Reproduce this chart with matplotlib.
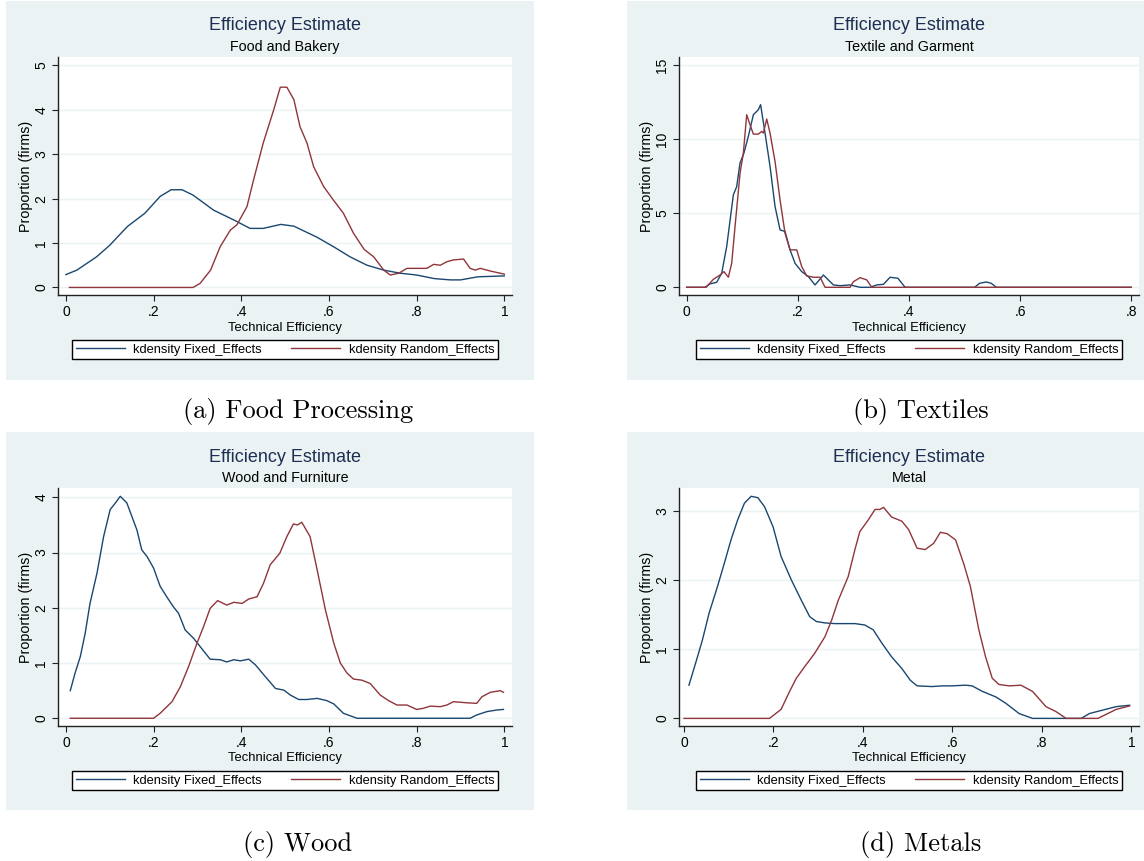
import matplotlib
matplotlib.use("Agg")
import matplotlib.pyplot as plt
from matplotlib.patches import Rectangle
from matplotlib.lines import Line2D

W, H = 1144, 861

# ---- data ----
food_fe_x = [0.0, 0.025, 0.07, 0.10, 0.14, 0.18, 0.215, 0.24, 0.265, 0.29, 0.337, 0.383, 0.42, 0.45,
             0.49, 0.52, 0.573, 0.61, 0.648, 0.687, 0.725, 0.763, 0.80, 0.84, 0.877, 0.90, 0.94, 1.0]
food_fe_y = [0.29, 0.39, 0.69, 0.95, 1.37, 1.67, 2.05, 2.2, 2.2, 2.08, 1.74, 1.52, 1.33, 1.33,
             1.42, 1.38, 1.13, 0.92, 0.69, 0.50, 0.39, 0.32, 0.28, 0.20, 0.17, 0.17, 0.24, 0.26]
food_re_x = [0.008, 0.29, 0.306, 0.33, 0.352, 0.375, 0.39, 0.413, 0.428, 0.45, 0.474, 0.489, 0.504,
             0.52, 0.534, 0.55, 0.565, 0.588, 0.61, 0.633, 0.656, 0.68, 0.702, 0.725, 0.74, 0.759,
             0.778, 0.80, 0.823, 0.839, 0.854, 0.869, 0.884, 0.907, 0.922, 0.934, 0.945, 0.968, 1.0]
food_re_y = [0.0, 0.0, 0.09, 0.39, 0.92, 1.29, 1.41, 1.82, 2.42, 3.25, 4.0, 4.51, 4.51,
             4.23, 3.62, 3.25, 2.72, 2.27, 1.97, 1.67, 1.22, 0.86, 0.69, 0.39, 0.28, 0.32,
             0.43, 0.43, 0.43, 0.52, 0.50, 0.58, 0.62, 0.64, 0.43, 0.39, 0.43, 0.37, 0.30]

tex_fe_x = [0.0, 0.033, 0.042, 0.054, 0.063, 0.072, 0.084, 0.09, 0.096, 0.103, 0.111, 0.12, 0.129,
            0.133, 0.141, 0.15, 0.159, 0.168, 0.177, 0.186, 0.195, 0.207, 0.219, 0.231, 0.246,
            0.264, 0.276, 0.294, 0.312, 0.33, 0.342, 0.354, 0.366, 0.38, 0.393, 0.518, 0.527,
            0.539, 0.548, 0.557, 0.8]
tex_fe_y = [0.0, 0.0, 0.23, 0.34, 0.95, 2.75, 6.25, 6.8, 8.4, 9.07, 10.2, 11.66, 12.0,
            12.34, 10.42, 8.17, 5.46, 3.88, 3.77, 2.53, 1.62, 1.06, 0.72, 0.16, 0.83,
            0.16, 0.11, 0.16, 0.0, 0.0, 0.16, 0.2, 0.68, 0.61, 0.0, 0.0, 0.27,
            0.36, 0.27, 0.0, 0.0]
tex_re_x = [0.0, 0.035, 0.048, 0.06, 0.067, 0.075, 0.081, 0.087, 0.096, 0.102, 0.108, 0.114, 0.12,
            0.129, 0.135, 0.138, 0.144, 0.15, 0.159, 0.168, 0.177, 0.186, 0.198, 0.207, 0.216,
            0.228, 0.24, 0.249, 0.294, 0.30, 0.312, 0.324, 0.333, 0.8]
tex_re_y = [0.0, 0.0, 0.54, 0.83, 1.06, 0.68, 1.62, 4.1, 7.7, 9.07, 11.66, 10.98, 10.35,
            10.35, 10.53, 10.42, 11.37, 10.42, 8.5, 5.9, 3.65, 2.53, 2.53, 1.4, 0.77,
            0.68, 0.68, 0.0, 0.0, 0.38, 0.65, 0.5, 0.0, 0.0]

wood_fe_x = [0.01, 0.021, 0.033, 0.044, 0.055, 0.071, 0.086, 0.101, 0.113, 0.124, 0.139, 0.162, 0.173,
             0.185, 0.2, 0.215, 0.23, 0.245, 0.257, 0.272, 0.291, 0.306, 0.329, 0.352, 0.367,
             0.383, 0.398, 0.417, 0.432, 0.451, 0.478, 0.497, 0.512, 0.531, 0.55, 0.573, 0.595,
             0.611, 0.633, 0.664, 0.922, 0.937, 0.96, 0.983, 0.998]
wood_fe_y = [0.5, 0.82, 1.12, 1.54, 2.08, 2.63, 3.29, 3.78, 3.90, 4.02, 3.9, 3.41, 3.05,
             2.93, 2.72, 2.39, 2.2, 2.02, 1.9, 1.6, 1.45, 1.3, 1.07, 1.06, 1.02,
             1.06, 1.04, 1.07, 0.97, 0.79, 0.54, 0.51, 0.42, 0.34, 0.34, 0.36, 0.32,
             0.26, 0.09, 0.0, 0.0, 0.06, 0.12, 0.15, 0.16]
wood_re_x = [0.01, 0.2, 0.215, 0.242, 0.261, 0.28, 0.299, 0.314, 0.329, 0.346, 0.367, 0.383, 0.402,
             0.417, 0.436, 0.451, 0.466, 0.488, 0.504, 0.519, 0.528, 0.538, 0.557, 0.573, 0.592,
             0.611, 0.626, 0.641, 0.656, 0.675, 0.694, 0.717, 0.736, 0.755, 0.778, 0.80, 0.815,
             0.831, 0.854, 0.869, 0.884, 0.915, 0.937, 0.949, 0.968, 0.991, 0.998]
wood_re_y = [0.0, 0.0, 0.09, 0.3, 0.57, 0.94, 1.36, 1.66, 1.99, 2.13, 2.05, 2.10, 2.08,
             2.16, 2.2, 2.45, 2.78, 2.99, 3.29, 3.52, 3.5, 3.55, 3.29, 2.69, 1.96,
             1.36, 1.0, 0.82, 0.71, 0.69, 0.63, 0.42, 0.32, 0.24, 0.24, 0.16, 0.18,
             0.22, 0.21, 0.24, 0.30, 0.28, 0.27, 0.39, 0.47, 0.50, 0.47]

metal_fe_x = [0.011, 0.026, 0.041, 0.056, 0.075, 0.09, 0.105, 0.12, 0.135, 0.15, 0.165, 0.18, 0.199,
              0.217, 0.24, 0.262, 0.281, 0.296, 0.315, 0.337, 0.367, 0.382, 0.404, 0.423, 0.442,
              0.464, 0.487, 0.506, 0.521, 0.554, 0.577, 0.599, 0.629, 0.644, 0.667, 0.697, 0.719,
              0.749, 0.779, 0.888, 0.906, 0.936, 0.966, 0.996]
metal_fe_y = [0.48, 0.80, 1.13, 1.52, 1.91, 2.24, 2.58, 2.87, 3.11, 3.21, 3.19, 3.06, 2.77,
              2.34, 2.0, 1.71, 1.47, 1.40, 1.38, 1.37, 1.37, 1.37, 1.35, 1.28, 1.09,
              0.89, 0.72, 0.55, 0.47, 0.46, 0.47, 0.47, 0.48, 0.47, 0.39, 0.31, 0.22,
              0.07, 0.0, 0.0, 0.07, 0.12, 0.17, 0.19]
metal_re_x = [0.0, 0.191, 0.217, 0.236, 0.251, 0.27, 0.292, 0.315, 0.33, 0.345, 0.367, 0.382, 0.393,
              0.412, 0.427, 0.438, 0.446, 0.464, 0.487, 0.502, 0.521, 0.539, 0.558, 0.573, 0.588,
              0.607, 0.625, 0.64, 0.659, 0.674, 0.689, 0.704, 0.727, 0.753, 0.779, 0.809, 0.831,
              0.854, 0.925, 0.944, 0.966, 0.996]
metal_re_y = [0.0, 0.0, 0.13, 0.39, 0.58, 0.75, 0.94, 1.18, 1.42, 1.71, 2.05, 2.44, 2.70,
              2.87, 3.02, 3.02, 3.05, 2.91, 2.85, 2.73, 2.46, 2.44, 2.53, 2.69, 2.67,
              2.58, 2.24, 1.91, 1.28, 0.89, 0.58, 0.49, 0.47, 0.48, 0.39, 0.17, 0.1,
              0.0, 0.0, 0.06, 0.13, 0.18]

subtitles = ["Food and Bakery", "Textile and Garment", "Wood and Furniture", "Metal"]
captions = ["(a) Food Processing", "(b) Textiles", "(c) Wood", "(d) Metals"]
fe_series = [(food_fe_x, food_fe_y), (tex_fe_x, tex_fe_y), (wood_fe_x, wood_fe_y), (metal_fe_x, metal_fe_y)]
re_series = [(food_re_x, food_re_y), (tex_re_x, tex_re_y), (wood_re_x, wood_re_y), (metal_re_x, metal_re_y)]
xticks = [[0, .2, .4, .6, .8, 1], [0, .2, .4, .6, .8], [0, .2, .4, .6, .8, 1], [0, .2, .4, .6, .8, 1]]
xticklabels = [["0", ".2", ".4", ".6", ".8", "1"], ["0", ".2", ".4", ".6", ".8"],
               ["0", ".2", ".4", ".6", ".8", "1"], ["0", ".2", ".4", ".6", ".8", "1"]]
yticks = [[0, 1, 2, 3, 4, 5], [0, 5, 10, 15], [0, 1, 2, 3, 4], [0, 1, 2, 3]]
xlims = [(-0.018, 1.0175), (-0.0138, 0.8138), (-0.018, 1.0175), (-0.0112, 1.017)]
ylims = [(-0.17, 5.19), (-0.52, 15.56), (-0.14, 4.17), (-0.11, 3.33)]

# ---- style ----
bg = "#eaf2f3"
navy = "#1a476f"
maroon = "#90353b"
titlecol = "#1e2f52"
sans = ["Liberation Sans", "DejaVu Sans"]
plt.rcParams["font.family"] = sans

fig = plt.figure(figsize=(W / 100, H / 100), dpi=100)
fig.patch.set_facecolor("white")

def fx(px):
    return px / W

def fy(py):
    return 1 - py / H

# panel geometry in pixels: background box, plot area (left, right, top, bottom)
boxes = [(6, 534, 1, 380), (627, 1144, 1, 380), (6, 534, 432, 810), (627, 1144, 432, 810)]
plots = [(58, 512, 57, 295), (679, 1139, 57, 295), (58, 512, 488, 726), (679, 1139, 488, 726)]
cap_pos = [(298, 411), (921, 411), (298, 845), (921, 845)]

for i in range(4):
    bx0, bx1, by0, by1 = boxes[i]
    fig.patches.append(Rectangle((fx(bx0), fy(by1)), fx(bx1 - bx0), (by1 - by0) / H,
                                 transform=fig.transFigure, facecolor=bg, edgecolor="none", zorder=-10))
    l, r, t, b = plots[i]
    ax = fig.add_axes([fx(l), fy(b), fx(r - l), (b - t) / H])
    ax.set_zorder(1)
    ax.set_facecolor("white")
    for s in ["top", "right"]:
        ax.spines[s].set_visible(False)
    for s in ["left", "bottom"]:
        ax.spines[s].set_color("#222222")
        ax.spines[s].set_linewidth(1.0)

    ax.plot(fe_series[i][0], fe_series[i][1], color=navy, lw=1.0)
    ax.plot(re_series[i][0], re_series[i][1], color=maroon, lw=1.0)

    ax.set_xlim(*xlims[i])
    ax.set_ylim(*ylims[i])
    ax.set_xticks(xticks[i])
    ax.set_xticklabels(xticklabels[i])
    ax.set_yticks(yticks[i])
    ax.set_yticklabels([str(v) for v in yticks[i]], rotation=90, va="center")
    ax.tick_params(direction="out", length=4, width=0.8, color="#222222", labelsize=10, pad=3)
    ax.yaxis.grid(True, color=bg, lw=1.0)
    ax.set_axisbelow(True)

    ax.set_xlabel("Technical Efficiency", fontsize=9.4, labelpad=2)
    ax.set_ylabel("Proportion (firms)", fontsize=10.3, labelpad=1)

    cx = fx((l + r) / 2)
    fig.text(cx, fy(t - 31), "Efficiency Estimate", ha="center", va="center", fontsize=13, color=titlecol)
    fig.text(cx, fy(t - 10), subtitles[i], ha="center", va="center", fontsize=10.3, color="black")

    # legend box below the plot
    lcx, lcy = (l + r) / 2, b + 54.5
    handles = [Line2D([], [], color=navy, lw=1.0), Line2D([], [], color=maroon, lw=1.0)]
    leg = ax.legend(handles, ["kdensity Fixed_Effects", "kdensity Random_Effects"],
                    loc="center", bbox_to_anchor=(fx(lcx), fy(lcy)),
                    bbox_transform=fig.transFigure, ncol=2, fontsize=9.3,
                    frameon=True, fancybox=False, edgecolor="black", framealpha=1,
                    handlelength=3.8, handletextpad=0.65, borderpad=0.3, columnspacing=2.3)
    leg.get_frame().set_linewidth(1.0)

    fig.text(fx(cap_pos[i][0]), fy(cap_pos[i][1]), captions[i], ha="center", va="center",
             fontsize=19, family=["cmr10", "DejaVu Serif"])

fig.savefig("out.png", dpi=100)
